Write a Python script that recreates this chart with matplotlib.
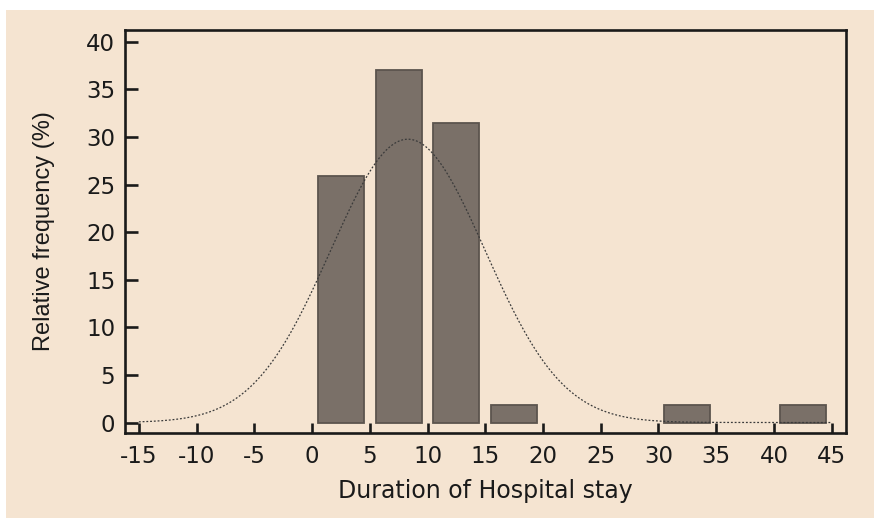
import numpy as np
import matplotlib
matplotlib.use("Agg")
import matplotlib.pyplot as plt
from matplotlib.patches import Rectangle

plt.rcParams["axes.unicode_minus"] = False

# Data
bin_left = [0.5, 5.5, 10.5, 15.5, 30.5, 40.5]
bin_width = 4.0
rel_freq = [25.9, 37.0, 31.5, 1.85, 1.85, 1.85]
fit_mean = 8.3
fit_sd = 6.7
fit_scale = 500.0  # percent * class width
curve_range = (-15, 45)
x_ticks = list(range(-15, 50, 5))
y_ticks = list(range(0, 45, 5))
x_label = "Duration of Hospital stay"
y_label = "Relative frequency (%)"

bg = "#f5e4d1"
bar_fc = "#7a7068"
bar_ec = "#5c544e"

fig = plt.figure(figsize=(8.74, 5.18), dpi=100, facecolor="white")
fig.patches.append(Rectangle((6 / 874, 0), 1, 1 - 10 / 518, transform=fig.transFigure,
                             facecolor=bg, edgecolor="none", zorder=-10))

ax = fig.add_axes([125 / 874, 1 - 432.5 / 518, (845.5 - 125) / 874, (432.5 - 29.5) / 518])
ax.set_facecolor(bg)

ax.bar(bin_left, rel_freq, width=bin_width, align="edge", color=bar_fc,
       edgecolor=bar_ec, linewidth=1.3, zorder=2)

xs = np.linspace(curve_range[0], curve_range[1], 600)
ys = fit_scale / (fit_sd * np.sqrt(2 * np.pi)) * np.exp(-0.5 * ((xs - fit_mean) / fit_sd) ** 2)
ax.plot(xs, ys, color="#3a3a3a", linewidth=0.9, linestyle=(0, (1.5, 1.5)), zorder=3)

ax.set_xlim(-16.2, 46.2)
ax.set_ylim(-1.05, 41.3)
ax.set_xticks(x_ticks)
ax.set_yticks(y_ticks)

for s in ax.spines.values():
    s.set_linewidth(1.9)
    s.set_color("#1a1a1a")

ax.tick_params(axis="x", direction="in", length=7.5, width=1.9, pad=9, labelsize=16.5,
               colors="#1a1a1a")
ax.tick_params(axis="y", direction="in", length=9.5, width=1.9, pad=7, labelsize=16.5,
               colors="#1a1a1a")
for lab in ax.get_xticklabels() + ax.get_yticklabels():
    lab.set_family("DejaVu Sans")

ax.set_xlabel(x_label, fontsize=17, family="DejaVu Sans", color="#1a1a1a", labelpad=8)
ax.set_ylabel(y_label, fontsize=17, family="Liberation Sans", color="#1a1a1a", labelpad=22)

fig.savefig("out.png", dpi=100, facecolor="white")
